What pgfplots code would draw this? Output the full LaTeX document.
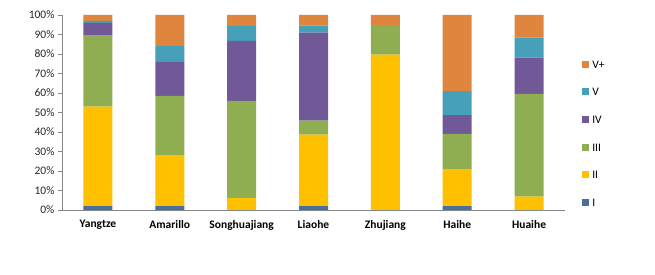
\documentclass[border=0pt]{standalone}
\usepackage{pgfplots}
\pgfplotsset{compat=1.18}
\usepackage{fontspec}
\setmainfont{Carlito}
\definecolor{cI}{HTML}{4A6E9E}
\definecolor{cII}{HTML}{FFC000}
\definecolor{cIII}{HTML}{8FAE52}
\definecolor{cIV}{HTML}{715896}
\definecolor{cV}{HTML}{45A0B8}
\definecolor{cVp}{HTML}{E0853E}
\definecolor{axgray}{HTML}{868686}
\begin{document}
\begin{tikzpicture}
\path[use as bounding box] (0,0) rectangle (655pt,275pt);
\begin{axis}[
  at={(62pt,65pt)}, anchor=south west,
  scale only axis, width=503pt, height=195pt,
  ybar stacked, bar width=29pt,
  xmin=-0.5, xmax=6.5, ymin=0, ymax=100,
  axis lines=left, axis line style={-, draw=axgray},
  xtick={0,...,6},
  xticklabels={Yangtze,Amarillo,Songhuajiang,Liaohe,Zhujiang,Haihe,Huaihe},
  x tick label style={font=\fontsize{11.5}{13}\selectfont\bfseries, yshift=-3pt},
  xtick style={draw=none},
  extra x ticks={-0.5,0.5,1.5,2.5,3.5,4.5,5.5,6.5},
  extra x tick labels={},
  extra x tick style={tick style={draw=axgray}, major tick length=5pt, tick align=outside},
  ytick={0,10,...,100},
  yticklabel={\pgfmathprintnumber{\tick}\%},
  y tick label style={font=\fontsize{11.5}{13}\selectfont, text=black!85},
  ytick style={draw=axgray}, major tick length=4pt, tick align=outside,
  /pgf/number format/assume math mode=true,
  reverse legend,
  legend style={draw=none, at={(1.034,0.769)}, anchor=north west, inner sep=0pt,
    font=\fontsize{11.5}{13}\selectfont, row sep=19.6pt,
    nodes={inner sep=0pt, text height=8pt, text depth=0pt}},
  legend cell align=left,
  legend image code/.code={\fill[#1] (0pt,-3.5pt) rectangle (7pt,3.5pt); \path (10pt,0pt);},
]
\addplot[fill=cI, draw=none] coordinates {(0,2) (1,2) (2,0) (3,2) (4,0) (5,2) (6,0)};
\addplot[fill=cII, draw=none] coordinates {(0,51) (1,25.9) (2,6.2) (3,36.6) (4,79.7) (5,18.7) (6,6.8)};
\addplot[fill=cIII, draw=none] coordinates {(0,36.4) (1,30.6) (2,49.7) (3,7.2) (4,14.7) (5,18.3) (6,52.7)};
\addplot[fill=cIV, draw=none] coordinates {(0,6.6) (1,17.4) (2,30.8) (3,45.1) (4,0) (5,9.7) (6,18.6)};
\addplot[fill=cV, draw=none] coordinates {(0,1) (1,8.2) (2,7.7) (3,3.6) (4,0) (5,12.3) (6,10.3)};
\addplot[fill=cVp, draw=none] coordinates {(0,3) (1,15.9) (2,5.6) (3,5.5) (4,5.6) (5,39) (6,11.6)};
\legend{I,II,III,IV,V,V+}
\end{axis}
\end{tikzpicture}
\end{document}
